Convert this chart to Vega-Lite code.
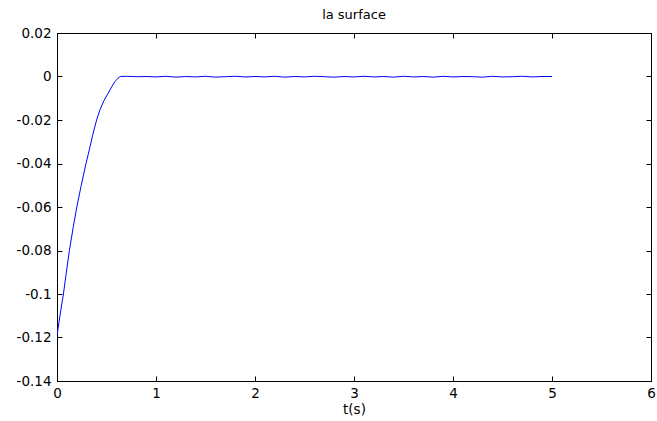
{
  "$schema": "https://vega.github.io/schema/vega-lite/v6.json",
  "width": 594,
  "height": 348,
  "autosize": {"type": "none"},
  "padding": {"left": 57, "top": 33, "right": 6, "bottom": 40},
  "background": "white",
  "title": {"text": "la surface", "font": "DejaVu Sans", "fontSize": 13, "fontWeight": "normal", "color": "black", "offset": 4},
  "config": {
    "view": {"stroke": "black", "strokeWidth": 1},
    "axis": {"grid": false, "domainColor": "black", "tickColor": "black", "labelColor": "black", "labelFont": "DejaVu Sans", "labelFontSize": 13.5, "titleFont": "DejaVu Sans", "titleFontSize": 13.5, "titleFontWeight": "normal", "titleColor": "black", "tickSize": -5, "labelPadding": 10}
  },
  "data": {"values": [
    {"t": 0, "s": -0.119}, {"t": 0.02, "s": -0.113}, {"t": 0.04, "s": -0.107}, {"t": 0.065, "s": -0.1},
    {"t": 0.09, "s": -0.0915}, {"t": 0.125, "s": -0.08}, {"t": 0.165, "s": -0.069}, {"t": 0.2, "s": -0.06},
    {"t": 0.245, "s": -0.05}, {"t": 0.293, "s": -0.04}, {"t": 0.33, "s": -0.033}, {"t": 0.36, "s": -0.027},
    {"t": 0.4, "s": -0.02}, {"t": 0.434, "s": -0.0153}, {"t": 0.475, "s": -0.011}, {"t": 0.518, "s": -0.0076},
    {"t": 0.555, "s": -0.0045}, {"t": 0.586, "s": -0.0023}, {"t": 0.615, "s": -0.0008}, {"t": 0.64, "s": 0},
    {"t": 0.7, "s": 0.0001}, {"t": 0.8, "s": -0.0001}, {"t": 0.9, "s": 0}, {"t": 1.0, "s": -0.0002},
    {"t": 1.1, "s": 0.0001}, {"t": 1.2, "s": -0.0003}, {"t": 1.3, "s": 0}, {"t": 1.4, "s": -0.0002},
    {"t": 1.5, "s": 0.0001}, {"t": 1.6, "s": -0.0003}, {"t": 1.7, "s": -0.0001}, {"t": 1.8, "s": 0.0001},
    {"t": 1.9, "s": -0.0002}, {"t": 2.0, "s": 0}, {"t": 2.1, "s": -0.0002}, {"t": 2.2, "s": 0.0001},
    {"t": 2.3, "s": -0.0003}, {"t": 2.4, "s": 0}, {"t": 2.5, "s": -0.0002}, {"t": 2.6, "s": 0.0001},
    {"t": 2.7, "s": -0.0001}, {"t": 2.8, "s": -0.0003}, {"t": 2.9, "s": 0}, {"t": 3.0, "s": -0.0002},
    {"t": 3.1, "s": 0.0001}, {"t": 3.2, "s": -0.0002}, {"t": 3.3, "s": 0}, {"t": 3.4, "s": -0.0003},
    {"t": 3.5, "s": 0.0001}, {"t": 3.6, "s": -0.0002}, {"t": 3.7, "s": 0}, {"t": 3.8, "s": -0.0003},
    {"t": 3.9, "s": 0.0001}, {"t": 4.0, "s": -0.0002}, {"t": 4.1, "s": 0}, {"t": 4.2, "s": -0.0001},
    {"t": 4.3, "s": -0.0003}, {"t": 4.4, "s": 0.0001}, {"t": 4.5, "s": -0.0002}, {"t": 4.6, "s": -0.0001},
    {"t": 4.7, "s": 0.0001}, {"t": 4.8, "s": -0.0002}, {"t": 4.9, "s": 0}, {"t": 5.0, "s": 0}
  ]},
  "layer": [
    {
      "mark": {"type": "line", "color": "#0000ff", "strokeWidth": 1, "clip": true},
      "encoding": {
        "x": {"field": "t", "type": "quantitative", "scale": {"domain": [0, 6], "nice": false, "zero": false},
          "axis": {"orient": "bottom", "title": "t(s)", "values": [0, 1, 2, 3, 4, 5, 6], "format": "d", "titlePadding": 3, "labelFlush": false}},
        "y": {"field": "s", "type": "quantitative", "scale": {"domain": [-0.14, 0.02], "nice": false, "zero": false},
          "axis": {"orient": "left", "title": null, "values": [-0.14, -0.12, -0.1, -0.08, -0.06, -0.04, -0.02, 0, 0.02], "labelExpr": "datum.value < 0 ? '-' + format(-datum.value, '.2~f') : format(datum.value, '.2~f')", "labelPadding": 11, "labelFlush": false}}
      }
    },
    {
      "mark": {"type": "line", "opacity": 0, "clip": true},
      "encoding": {
        "x": {"field": "t", "type": "quantitative", "scale": {"domain": [0, 6], "nice": false, "zero": false},
          "axis": {"orient": "top", "title": null, "labels": false, "values": [0, 1, 2, 3, 4, 5, 6], "domain": false}},
        "y": {"field": "s", "type": "quantitative", "scale": {"domain": [-0.14, 0.02], "nice": false, "zero": false},
          "axis": {"orient": "right", "title": null, "labels": false, "values": [-0.14, -0.12, -0.1, -0.08, -0.06, -0.04, -0.02, 0, 0.02], "domain": false}}
      }
    }
  ],
  "resolve": {"axis": {"x": "independent", "y": "independent"}}
}
